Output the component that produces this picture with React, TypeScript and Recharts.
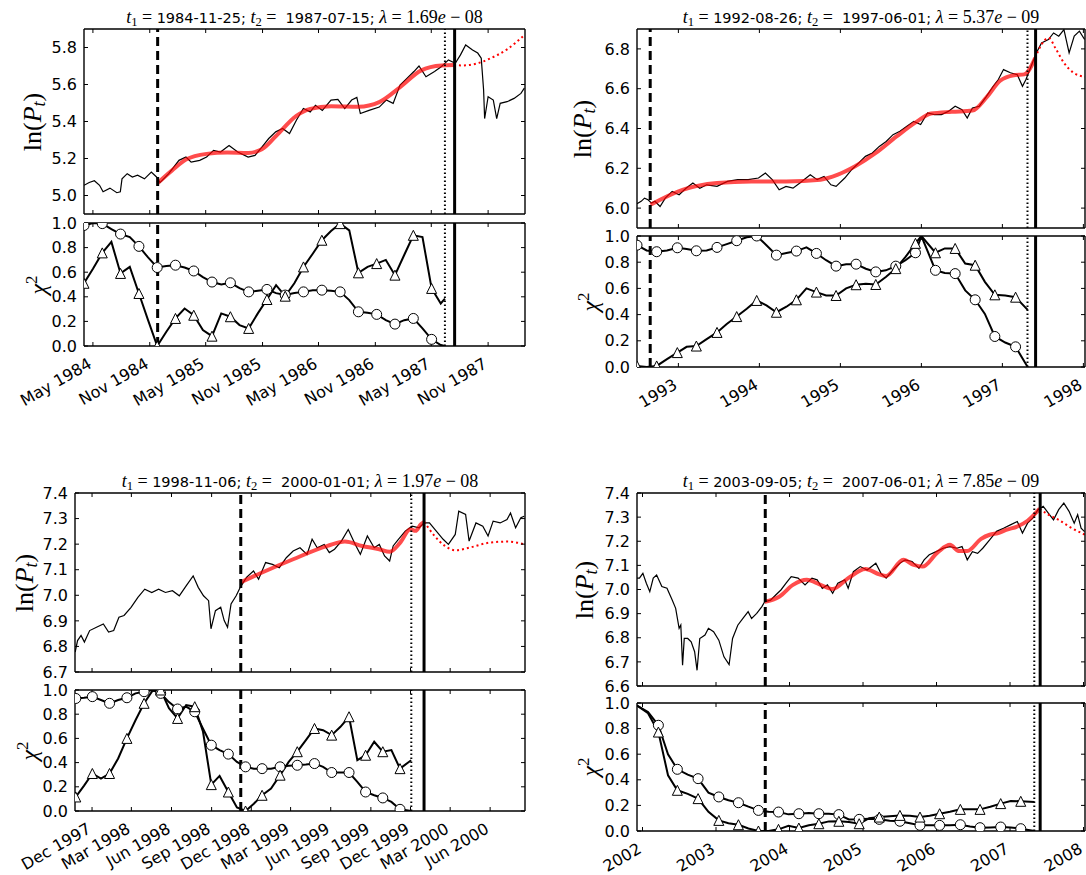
import React from "react";
import { LineChart, Line, XAxis, YAxis, ReferenceLine } from "recharts";

const FONT = "'DejaVu Sans', sans-serif";
const SERIF = "'Liberation Serif', serif";

// ---------- panel A (1984-1988) ----------
const aTitle = { t1: "1984-11-25", t2: "1987-07-15", lam: "1.69", ex: "08" };
const aPriceT = [1984.25, 1984.296, 1984.342, 1984.388, 1984.419, 1984.48, 1984.541, 1984.572, 1984.587, 1984.633, 1984.679, 1984.725, 1984.786, 1984.847, 1984.893, 1984.924, 1985.001, 1985.092, 1985.154, 1985.2, 1985.276, 1985.337, 1985.399, 1985.46, 1985.536, 1985.613, 1985.705, 1985.766, 1985.827, 1985.888, 1985.95, 1986.011, 1986.072, 1986.133, 1986.195, 1986.256, 1986.302, 1986.363, 1986.44, 1986.501, 1986.562, 1986.623, 1986.669, 1986.7, 1986.777, 1986.868, 1986.93, 1986.991, 1987.052, 1987.113, 1987.175, 1987.22, 1987.282, 1987.358, 1987.42, 1987.481, 1987.542, 1987.588, 1987.634, 1987.695, 1987.741, 1987.772, 1987.793, 1987.802, 1987.833, 1987.879, 1987.909, 1987.94, 1988.001, 1988.063, 1988.124, 1988.154];
const aPriceV = [5.055, 5.07, 5.08, 5.055, 5.02, 5.04, 5.015, 5.02, 5.09, 5.118, 5.1, 5.11, 5.09, 5.127, 5.1, 5.07, 5.118, 5.19, 5.208, 5.18, 5.19, 5.208, 5.244, 5.235, 5.27, 5.235, 5.208, 5.217, 5.262, 5.308, 5.344, 5.362, 5.335, 5.407, 5.47, 5.452, 5.488, 5.46, 5.516, 5.52, 5.47, 5.516, 5.53, 5.443, 5.46, 5.478, 5.516, 5.498, 5.597, 5.633, 5.67, 5.7, 5.642, 5.67, 5.697, 5.733, 5.715, 5.76, 5.814, 5.787, 5.77, 5.742, 5.57, 5.416, 5.534, 5.516, 5.416, 5.498, 5.507, 5.525, 5.552, 5.58];
const aFitT = [1984.903, 1985.031, 1985.154, 1985.337, 1985.521, 1985.705, 1985.827, 1985.95, 1986.133, 1986.256, 1986.44, 1986.685, 1986.868, 1987.052, 1987.236, 1987.42, 1987.53];
const aFitV = [5.067, 5.136, 5.194, 5.225, 5.232, 5.23, 5.25, 5.32, 5.43, 5.468, 5.483, 5.48, 5.505, 5.585, 5.675, 5.703, 5.705];
const aFutT = [1987.53, 1987.603, 1987.726, 1987.848, 1988.001, 1988.16];
const aFutV = [5.705, 5.703, 5.712, 5.74, 5.79, 5.87];
const aChiT = [1984.25, 1984.331, 1984.412, 1984.493, 1984.574, 1984.656, 1984.737, 1984.818, 1984.899, 1984.98, 1985.061, 1985.142, 1985.223, 1985.304, 1985.385, 1985.467, 1985.548, 1985.629, 1985.71, 1985.791, 1985.872, 1985.953, 1986.034, 1986.115, 1986.196, 1986.278, 1986.359, 1986.44, 1986.521, 1986.602, 1986.683, 1986.764, 1986.845, 1986.926, 1987.007, 1987.089, 1987.17, 1987.251, 1987.332, 1987.413, 1987.45];
const aCirc = [0.98, 1.0, 0.995, 0.95, 0.91, 0.886, 0.81, 0.72, 0.638, 0.65, 0.657, 0.638, 0.61, 0.56, 0.52, 0.5, 0.514, 0.47, 0.44, 0.45, 0.46, 0.43, 0.414, 0.43, 0.44, 0.454, 0.454, 0.45, 0.44, 0.373, 0.278, 0.27, 0.257, 0.21, 0.178, 0.21, 0.224, 0.143, 0.054, 0.008, 0.0];
const aTri = [0.51, 0.63, 0.757, 0.846, 0.59, 0.643, 0.427, 0.21, 0.0, 0.116, 0.224, 0.305, 0.25, 0.13, 0.08, 0.265, 0.238, 0.17, 0.143, 0.265, 0.378, 0.495, 0.405, 0.51, 0.643, 0.75, 0.86, 0.935, 0.995, 0.94, 0.595, 0.643, 0.67, 0.7, 0.576, 0.74, 0.9, 0.886, 0.468, 0.346, 0.386];
const aTicks = [1984.329, 1984.833, 1985.329, 1985.833, 1986.329, 1986.833, 1987.329, 1987.833];
const aTickLabels = ["May 1984", "Nov 1984", "May 1985", "Nov 1985", "May 1986", "Nov 1986", "May 1987", "Nov 1987"];
const aYTicks = [5.0, 5.2, 5.4, 5.6, 5.8];

// ---------- panel B (1992-1998) ----------
const bTitle = { t1: "1992-08-26", t2: "1997-06-01", lam: "5.37", ex: "09" };
const bPriceT = [1992.489, 1992.54, 1992.582, 1992.625, 1992.668, 1992.71, 1992.774, 1992.838, 1992.923, 1993.009, 1993.094, 1993.179, 1993.264, 1993.349, 1993.477, 1993.605, 1993.733, 1993.861, 1993.989, 1994.074, 1994.159, 1994.244, 1994.329, 1994.415, 1994.5, 1994.628, 1994.713, 1994.798, 1994.883, 1994.947, 1995.054, 1995.139, 1995.224, 1995.309, 1995.395, 1995.48, 1995.565, 1995.65, 1995.735, 1995.821, 1995.906, 1995.991, 1996.076, 1996.161, 1996.247, 1996.332, 1996.417, 1996.502, 1996.566, 1996.63, 1996.715, 1996.801, 1996.886, 1996.95, 1997.014, 1997.099, 1997.184, 1997.248, 1997.291, 1997.355, 1997.419, 1997.483, 1997.568, 1997.632, 1997.696, 1997.76, 1997.824, 1997.887, 1997.951, 1998.015];
const bPriceV = [6.022, 6.034, 6.05, 6.042, 6.025, 6.034, 6.008, 6.05, 6.084, 6.067, 6.1, 6.126, 6.1, 6.117, 6.109, 6.134, 6.143, 6.143, 6.151, 6.176, 6.143, 6.092, 6.109, 6.1, 6.126, 6.168, 6.143, 6.159, 6.117, 6.109, 6.151, 6.193, 6.226, 6.26, 6.277, 6.31, 6.335, 6.369, 6.386, 6.411, 6.436, 6.42, 6.478, 6.47, 6.47, 6.486, 6.512, 6.495, 6.453, 6.503, 6.512, 6.56, 6.612, 6.646, 6.696, 6.68, 6.67, 6.612, 6.646, 6.713, 6.78, 6.83, 6.847, 6.88, 6.864, 6.897, 6.78, 6.864, 6.889, 6.847];
const bFitT = [1992.655, 1993.051, 1993.477, 1993.903, 1994.329, 1994.756, 1994.969, 1995.182, 1995.437, 1995.693, 1995.948, 1996.119, 1996.374, 1996.63, 1996.801, 1996.972, 1997.142, 1997.27, 1997.406];
const bFitV = [6.017, 6.092, 6.126, 6.134, 6.134, 6.143, 6.168, 6.21, 6.277, 6.36, 6.436, 6.475, 6.484, 6.49, 6.555, 6.64, 6.668, 6.672, 6.755];
const bFutT = [1997.406, 1997.48, 1997.57, 1997.66, 1997.76, 1997.88, 1998.02];
const bFutV = [6.755, 6.82, 6.855, 6.8, 6.73, 6.68, 6.66];
const bChiT = [1992.489, 1992.608, 1992.732, 1992.859, 1992.987, 1993.102, 1993.222, 1993.349, 1993.477, 1993.597, 1993.72, 1993.844, 1993.967, 1994.087, 1994.21, 1994.334, 1994.457, 1994.581, 1994.704, 1994.824, 1994.947, 1995.071, 1995.194, 1995.314, 1995.437, 1995.561, 1995.684, 1995.804, 1995.927, 1996.0, 1996.174, 1996.289, 1996.417, 1996.541, 1996.664, 1996.784, 1996.907, 1997.035, 1997.163, 1997.312];
const bCirc = [0.93, 0.89, 0.88, 0.89, 0.91, 0.9, 0.887, 0.89, 0.913, 0.938, 0.964, 0.99, 1.0, 0.93, 0.854, 0.87, 0.885, 0.913, 0.867, 0.815, 0.77, 0.785, 0.785, 0.75, 0.726, 0.738, 0.77, 0.815, 0.872, 1.0, 0.738, 0.718, 0.713, 0.585, 0.513, 0.405, 0.233, 0.187, 0.154, 0.0];
const bTri = [0.008, 0.0, 0.008, 0.06, 0.11, 0.154, 0.16, 0.213, 0.264, 0.328, 0.385, 0.444, 0.508, 0.47, 0.418, 0.46, 0.513, 0.6, 0.572, 0.546, 0.546, 0.6, 0.628, 0.636, 0.63, 0.687, 0.751, 0.84, 0.944, 1.0, 0.872, 0.905, 0.905, 0.79, 0.777, 0.65, 0.551, 0.546, 0.533, 0.436];
const bTicks = [1993, 1994, 1995, 1996, 1997, 1998];
const bTickLabels = ["1993", "1994", "1995", "1996", "1997", "1998"];
const bYTicks = [6.0, 6.2, 6.4, 6.6, 6.8];

// ---------- panel C (1997-2000) ----------
const cTitle = { t1: "1998-11-06", t2: "2000-01-01", lam: "1.97", ex: "08" };
const cPriceT = [1997.809, 1997.824, 1997.846, 1997.867, 1997.9, 1997.943, 1997.986, 1998.019, 1998.051, 1998.084, 1998.116, 1998.16, 1998.203, 1998.246, 1998.29, 1998.333, 1998.376, 1998.42, 1998.463, 1998.506, 1998.55, 1998.582, 1998.615, 1998.647, 1998.662, 1998.69, 1998.723, 1998.745, 1998.766, 1998.788, 1998.82, 1998.846, 1998.885, 1998.929, 1998.961, 1999.005, 1999.048, 1999.091, 1999.135, 1999.178, 1999.221, 1999.265, 1999.297, 1999.329, 1999.373, 1999.405, 1999.438, 1999.481, 1999.524, 1999.568, 1999.6, 1999.644, 1999.687, 1999.719, 1999.752, 1999.784, 1999.806, 1999.839, 1999.882, 1999.925, 1999.969, 2000.001, 2000.034, 2000.077, 2000.12, 2000.153, 2000.196, 2000.218, 2000.261, 2000.283, 2000.326, 2000.369, 2000.402, 2000.434, 2000.478, 2000.521, 2000.543, 2000.575, 2000.608, 2000.629];
const cPriceV = [6.778, 6.823, 6.843, 6.817, 6.862, 6.875, 6.888, 6.856, 6.862, 6.914, 6.921, 6.953, 6.992, 7.024, 7.011, 7.024, 7.011, 7.018, 6.998, 7.037, 7.076, 7.031, 6.998, 6.979, 6.869, 6.94, 6.953, 6.901, 6.875, 6.966, 6.998, 7.031, 7.07, 7.095, 7.063, 7.128, 7.121, 7.108, 7.147, 7.173, 7.186, 7.16, 7.219, 7.186, 7.199, 7.167, 7.18, 7.212, 7.257, 7.199, 7.16, 7.232, 7.186, 7.199, 7.154, 7.134, 7.193, 7.219, 7.251, 7.27, 7.264, 7.283, 7.283, 7.251, 7.219, 7.199, 7.238, 7.329, 7.316, 7.212, 7.283, 7.27, 7.232, 7.29, 7.283, 7.296, 7.322, 7.264, 7.303, 7.309];
const cFitT = [1998.846, 1998.983, 1999.178, 1999.394, 1999.503, 1999.611, 1999.719, 1999.784, 1999.849, 1999.914, 1999.947, 1999.979, 2000.001];
const cFitV = [7.05, 7.089, 7.141, 7.193, 7.21, 7.193, 7.18, 7.17, 7.205, 7.258, 7.252, 7.277, 7.287];
const cFutT = [2000.001, 2000.066, 2000.131, 2000.196, 2000.283, 2000.412, 2000.521, 2000.634];
const cFutV = [7.287, 7.232, 7.193, 7.176, 7.186, 7.206, 7.21, 7.199];
const cChiT = [1997.813, 1997.865, 1997.917, 1997.971, 1998.025, 1998.079, 1998.134, 1998.188, 1998.242, 1998.294, 1998.346, 1998.398, 1998.452, 1998.506, 1998.56, 1998.612, 1998.664, 1998.716, 1998.771, 1998.825, 1998.879, 1998.931, 1998.983, 1999.039, 1999.096, 1999.15, 1999.204, 1999.258, 1999.312, 1999.366, 1999.42, 1999.475, 1999.529, 1999.581, 1999.633, 1999.687, 1999.741, 1999.795, 1999.849, 1999.919];
const cCirc = [0.93, 0.936, 0.945, 0.917, 0.89, 0.917, 0.936, 0.972, 0.986, 1.0, 0.972, 0.9, 0.843, 0.862, 0.82, 0.68, 0.544, 0.503, 0.47, 0.406, 0.365, 0.35, 0.35, 0.35, 0.365, 0.373, 0.378, 0.384, 0.392, 0.365, 0.318, 0.318, 0.318, 0.24, 0.157, 0.13, 0.108, 0.075, 0.014, 0.0];
const cTri = [0.116, 0.21, 0.31, 0.268, 0.31, 0.434, 0.6, 0.75, 0.89, 0.992, 1.0, 0.85, 0.765, 0.876, 0.862, 0.655, 0.218, 0.29, 0.157, 0.03, 0.0, 0.06, 0.13, 0.185, 0.296, 0.406, 0.49, 0.586, 0.682, 0.668, 0.627, 0.696, 0.779, 0.42, 0.461, 0.572, 0.49, 0.503, 0.35, 0.42];
const cTicks = [1997.915, 1998.162, 1998.414, 1998.666, 1998.915, 1999.162, 1999.414, 1999.666, 1999.915, 2000.164, 2000.415];
const cTickLabels = ["Dec 1997", "Mar 1998", "Jun 1998", "Sep 1998", "Dec 1998", "Mar 1999", "Jun 1999", "Sep 1999", "Dec 1999", "Mar 2000", "Jun 2000"];
const cYTicks = [6.7, 6.8, 6.9, 7.0, 7.1, 7.2, 7.3, 7.4];

// ---------- panel D (2002-2008) ----------
const dTitle = { t1: "2003-09-05", t2: "2007-06-01", lam: "7.85", ex: "09" };
const dPriceT = [2001.925, 2001.958, 2002.005, 2002.052, 2002.099, 2002.146, 2002.192, 2002.263, 2002.333, 2002.404, 2002.451, 2002.498, 2002.521, 2002.545, 2002.568, 2002.615, 2002.662, 2002.709, 2002.742, 2002.779, 2002.85, 2002.897, 2002.967, 2003.038, 2003.108, 2003.178, 2003.225, 2003.296, 2003.366, 2003.437, 2003.484, 2003.554, 2003.624, 2003.662, 2003.742, 2003.812, 2003.883, 2003.953, 2004.023, 2004.117, 2004.211, 2004.305, 2004.376, 2004.446, 2004.516, 2004.587, 2004.657, 2004.751, 2004.798, 2004.869, 2004.962, 2005.056, 2005.174, 2005.244, 2005.315, 2005.408, 2005.502, 2005.573, 2005.667, 2005.761, 2005.831, 2005.901, 2005.995, 2006.089, 2006.183, 2006.277, 2006.347, 2006.418, 2006.488, 2006.559, 2006.629, 2006.723, 2006.817, 2006.911, 2007.005, 2007.099, 2007.169, 2007.239, 2007.31, 2007.38, 2007.451, 2007.521, 2007.592, 2007.662, 2007.732, 2007.803, 2007.873, 2007.92, 2007.967, 2008.014];
const dPriceV = [7.047, 7.047, 7.067, 7.026, 6.991, 7.047, 7.06, 7.012, 7.005, 6.956, 6.922, 6.839, 6.853, 6.686, 6.797, 6.797, 6.783, 6.742, 6.665, 6.797, 6.811, 6.839, 6.825, 6.79, 6.721, 6.689, 6.797, 6.852, 6.88, 6.908, 6.88, 6.901, 6.929, 6.949, 6.956, 6.977, 6.998, 7.026, 7.053, 7.047, 7.019, 7.047, 7.04, 7.005, 7.019, 6.984, 7.026, 7.04, 7.005, 7.074, 7.095, 7.081, 7.109, 7.067, 7.047, 7.081, 7.109, 7.123, 7.116, 7.088, 7.123, 7.144, 7.157, 7.171, 7.178, 7.171, 7.178, 7.123, 7.157, 7.15, 7.171, 7.206, 7.241, 7.254, 7.268, 7.282, 7.234, 7.275, 7.296, 7.331, 7.345, 7.317, 7.289, 7.331, 7.358, 7.324, 7.275, 7.31, 7.254, 7.24];
const dFitT = [2003.662, 2003.859, 2004.047, 2004.235, 2004.423, 2004.587, 2004.798, 2005.033, 2005.221, 2005.315, 2005.549, 2005.69, 2005.808, 2006.019, 2006.183, 2006.3, 2006.418, 2006.606, 2006.723, 2006.84, 2006.958, 2007.099, 2007.239, 2007.404];
const dFitV = [6.949, 6.97, 7.019, 7.04, 7.019, 7.002, 7.047, 7.085, 7.063, 7.056, 7.123, 7.102, 7.095, 7.155, 7.185, 7.16, 7.16, 7.21, 7.227, 7.234, 7.248, 7.261, 7.285, 7.335];
const dFutT = [2007.404, 2007.521, 2007.662, 2007.803, 2008.02];
const dFutV = [7.335, 7.31, 7.289, 7.261, 7.227];
const dChiT = [2001.925, 2002.075, 2002.216, 2002.347, 2002.474, 2002.615, 2002.756, 2002.897, 2003.038, 2003.169, 2003.305, 2003.441, 2003.577, 2003.714, 2003.85, 2003.986, 2004.127, 2004.263, 2004.399, 2004.535, 2004.671, 2004.808, 2004.948, 2005.085, 2005.221, 2005.362, 2005.502, 2005.638, 2005.775, 2005.906, 2006.042, 2006.183, 2006.324, 2006.455, 2006.592, 2006.732, 2006.873, 2007.009, 2007.146, 2007.333];
const dCirc = [0.98, 0.93, 0.826, 0.6, 0.482, 0.44, 0.409, 0.3, 0.266, 0.24, 0.221, 0.19, 0.161, 0.15, 0.148, 0.13, 0.135, 0.14, 0.135, 0.135, 0.128, 0.09, 0.091, 0.095, 0.091, 0.08, 0.076, 0.06, 0.044, 0.044, 0.044, 0.045, 0.049, 0.035, 0.026, 0.028, 0.031, 0.028, 0.018, 0.0];
const dTri = [0.98, 0.92, 0.773, 0.435, 0.318, 0.29, 0.253, 0.15, 0.083, 0.06, 0.049, 0.02, 0.0, 0.0, 0.013, 0.04, 0.023, 0.045, 0.057, 0.075, 0.076, 0.07, 0.057, 0.1, 0.109, 0.115, 0.122, 0.12, 0.109, 0.12, 0.135, 0.15, 0.169, 0.17, 0.169, 0.19, 0.214, 0.235, 0.232, 0.227];
const dTicks = [2002, 2003, 2004, 2005, 2006, 2007, 2008];
const dTickLabels = ["2002", "2003", "2004", "2005", "2006", "2007", "2008"];
const dYTicks = [6.6, 6.7, 6.8, 6.9, 7.0, 7.1, 7.2, 7.3, 7.4];

const chiTicks = [0, 0.2, 0.4, 0.6, 0.8, 1.0];

const zip = (ts: number[], vs: number[]) => ts.map((t, i) => ({ t, v: vs[i] }));

// page layout (pixel boxes of each plot area)
const PANELS = [
  {
    title: aTitle, titleX: 304.5, yLabX: 34, chiLabX: 37,
    top: { l: 84, r: 525, t: 29, b: 214 }, bot: { l: 84, r: 525, t: 223, b: 346 },
    xDom: [1984.25, 1988.16], yDom: [4.9, 5.9], yTicks: aYTicks,
    xTicks: aTicks, xLabels: aTickLabels, vl: [1984.903, 1987.45, 1987.536], markFrom: 0, markTo: 38,
    price: zip(aPriceT, aPriceV), fit: zip(aFitT, aFitV), fut: zip(aFutT, aFutV),
    circ: zip(aChiT, aCirc), tri: zip(aChiT, aTri),
  },
  {
    title: bTitle, titleX: 861, yLabX: 584, chiLabX: 589,
    top: { l: 637, r: 1085, t: 29, b: 228 }, bot: { l: 637, r: 1085, t: 236, b: 367 },
    xDom: [1992.489, 1998.02], yDom: [5.9, 6.9], yTicks: bYTicks,
    xTicks: bTicks, xLabels: bTickLabels, vl: [1992.652, 1997.31, 1997.41], markFrom: 0, markTo: 38,
    price: zip(bPriceT, bPriceV), fit: zip(bFitT, bFitV), fut: zip(bFutT, bFutV),
    circ: zip(bChiT, bCirc), tri: zip(bChiT, bTri),
  },
  {
    title: cTitle, titleX: 300, yLabX: 26, chiLabX: 28,
    top: { l: 75, r: 525, t: 493, b: 672 }, bot: { l: 75, r: 525, t: 690, b: 811 },
    xDom: [1997.808, 2000.634], yDom: [6.7, 7.4], yTicks: cYTicks,
    xTicks: cTicks, xLabels: cTickLabels, vl: [1998.849, 1999.92, 2000.0], markFrom: 0, markTo: 38,
    price: zip(cPriceT, cPriceV), fit: zip(cFitT, cFitV), fut: zip(cFutT, cFutV),
    circ: zip(cChiT, cCirc), tri: zip(cChiT, cTri),
  },
  {
    title: dTitle, titleX: 861, yLabX: 586, chiLabX: 589,
    top: { l: 637, r: 1085, t: 493, b: 686 }, bot: { l: 637, r: 1085, t: 703, b: 831 },
    xDom: [2001.925, 2008.02], yDom: [6.6, 7.4], yTicks: dYTicks,
    xTicks: dTicks, xLabels: dTickLabels, vl: [2003.67, 2007.33, 2007.41], markFrom: 2, markTo: 38,
    price: zip(dPriceT, dPriceV), fit: zip(dFitT, dFitV), fut: zip(dFutT, dFutV),
    circ: zip(dChiT, dCirc), tri: zip(dChiT, dTri),
  },
];

const PADL = 84, PADR = 12, PADT = 10, PADB = 70;
const AX = { stroke: "#000", strokeWidth: 1.4 };
const TL = { stroke: "#000", strokeWidth: 1 };
const noTick = () => <g />;

const dateTick = (ticks: number[], labels: string[]) => (p: any) => {
  const i = ticks.findIndex((t) => Math.abs(t - p.payload.value) < 1e-6);
  const x = p.x, y = p.y + 21;
  return (
    <text x={x} y={y} textAnchor="end" fontSize={16} fontFamily={FONT} fill="#000" transform={`rotate(-30 ${x} ${y})`}>
      {labels[i] ?? ""}
    </text>
  );
};

const marker = (shape: string, from: number, to: number) => (p: any) => {
  const { cx, cy, index } = p;
  if (cx == null || cy == null || index < from || index > to || (index - from) % 2 !== 0) return <g key={`m${index}`} />;
  if (shape === "o") return <circle key={`m${index}`} cx={cx} cy={cy} r={5} fill="#fff" stroke="#000" strokeWidth={1} />;
  const s = 5;
  return <polygon key={`m${index}`} points={`${cx},${cy - s} ${cx - s},${cy + s} ${cx + s},${cy + s}`} fill="#fff" stroke="#000" strokeWidth={1} />;
};

function Plot({ box, xDom, xTicks, xLabels, yDom, yTicks, children }: any) {
  const w = box.r - box.l + PADL + PADR;
  const h = box.b - box.t + PADT + PADB;
  return (
    <div style={{ position: "absolute", left: box.l - PADL, top: box.t - PADT }}>
      <LineChart width={w} height={h} margin={{ top: PADT - 1, right: PADR - 1, left: 0, bottom: 0 }}>
        {children}
        <XAxis xAxisId="b" dataKey="t" type="number" domain={xDom} allowDataOverflow ticks={xTicks} interval={0}
          height={PADB} tickSize={-4} tickMargin={4} stroke="#000" axisLine={AX} tickLine={TL}
          tick={xLabels ? dateTick(xTicks, xLabels) : noTick} />
        <XAxis xAxisId="top" orientation="top" dataKey="t" type="number" domain={xDom} allowDataOverflow ticks={xTicks}
          interval={0} height={1} tickSize={-4} stroke="#000" axisLine={AX} tickLine={TL} tick={noTick} />
        <YAxis yAxisId="l" type="number" domain={yDom} allowDataOverflow ticks={yTicks} interval={0} width={PADL}
          tickSize={-4} tickMargin={11} stroke="#000" axisLine={AX} tickLine={TL}
          tick={{ fill: "#000", fontSize: 16, fontFamily: FONT }} tickFormatter={(v: number) => v.toFixed(1)} />
        <YAxis yAxisId="r" orientation="right" type="number" domain={yDom} allowDataOverflow ticks={yTicks} interval={0}
          width={1} tickSize={-4} stroke="#000" axisLine={AX} tickLine={TL} tick={noTick} />
      </LineChart>
    </div>
  );
}

const vLines = (vl: number[]) => [
  <ReferenceLine key="v1" xAxisId="b" yAxisId="l" x={vl[0]} stroke="#000" strokeWidth={3} strokeDasharray="9 5" />,
  <ReferenceLine key="v2" xAxisId="b" yAxisId="l" x={vl[1]} stroke="#000" strokeWidth={2} strokeDasharray="1.5 2.5" />,
  <ReferenceLine key="v3" xAxisId="b" yAxisId="l" x={vl[2]} stroke="#000" strokeWidth={3} />,
];

const MATH: React.CSSProperties = { fontFamily: SERIF, fontSize: 18 };
const SUB: React.CSSProperties = { fontSize: "0.7em", verticalAlign: "-0.25em" };

function Title({ cx, cy, t }: any) {
  return (
    <div style={{ position: "absolute", left: cx, top: cy, transform: "translate(-50%, -50%)", whiteSpace: "pre",
      fontFamily: FONT, fontSize: 14.5, lineHeight: 1, color: "#000" }}>
      <span style={MATH}><i>t</i><span style={SUB}>1</span> = </span>
      {`${t.t1}; `}
      <span style={MATH}><i>t</i><span style={SUB}>2</span> = </span>
      {` ${t.t2}; `}
      <span style={MATH}><i>λ</i> = {t.lam}<i>e</i> − {t.ex}</span>
    </div>
  );
}

function RotLabel({ cx, cy, size, children }: any) {
  return (
    <div style={{ position: "absolute", left: cx, top: cy, transform: "translate(-50%, -50%) rotate(-90deg)",
      fontFamily: SERIF, fontSize: size, whiteSpace: "nowrap", lineHeight: 1, color: "#000" }}>
      {children}
    </div>
  );
}

function Panel({ p }: any) {
  const mTop = (p.top.t + p.top.b) / 2;
  const mBot = (p.bot.t + p.bot.b) / 2;
  return (
    <>
      <Title cx={p.titleX} cy={p.top.t - 11} t={p.title} />
      <RotLabel cx={p.yLabX} cy={mTop} size={26}>
        ln(<i>P</i><i style={{ fontSize: "0.7em", verticalAlign: "-0.25em" }}>t</i>)
      </RotLabel>
      <RotLabel cx={p.chiLabX} cy={mBot} size={24}>
        <i>χ</i><span style={{ fontSize: "0.7em", verticalAlign: "0.5em" }}>2</span>
      </RotLabel>
      <Plot box={p.top} xDom={p.xDom} xTicks={p.xTicks} yDom={p.yDom} yTicks={p.yTicks}>
        <Line xAxisId="b" yAxisId="l" data={p.price} dataKey="v" type="linear" stroke="#000" strokeWidth={1.2}
          dot={false} isAnimationActive={false} />
        <Line xAxisId="b" yAxisId="l" data={p.fit} dataKey="v" type="monotone" stroke="#ff0000" strokeOpacity={0.7}
          strokeWidth={4} dot={false} isAnimationActive={false} />
        <Line xAxisId="b" yAxisId="l" data={p.fut} dataKey="v" type="monotone" stroke="#ff0000" strokeWidth={2}
          strokeDasharray="2 3" dot={false} isAnimationActive={false} />
        {vLines(p.vl)}
      </Plot>
      <Plot box={p.bot} xDom={p.xDom} xTicks={p.xTicks} xLabels={p.xLabels} yDom={[0, 1]} yTicks={chiTicks}>
        <Line xAxisId="b" yAxisId="l" data={p.circ} dataKey="v" type="linear" stroke="#000" strokeWidth={2}
          dot={marker("o", p.markFrom, p.markTo)} isAnimationActive={false} />
        <Line xAxisId="b" yAxisId="l" data={p.tri} dataKey="v" type="linear" stroke="#000" strokeWidth={2}
          dot={marker("^", p.markFrom, p.markTo)} isAnimationActive={false} />
        {vLines(p.vl)}
      </Plot>
    </>
  );
}

export default function App() {
  return (
    <div style={{ position: "fixed", left: 0, top: 0, width: 1086, height: 875, overflow: "hidden", background: "#fff" }}>
      {PANELS.map((p, i) => (
        <Panel key={i} p={p} />
      ))}
    </div>
  );
}
